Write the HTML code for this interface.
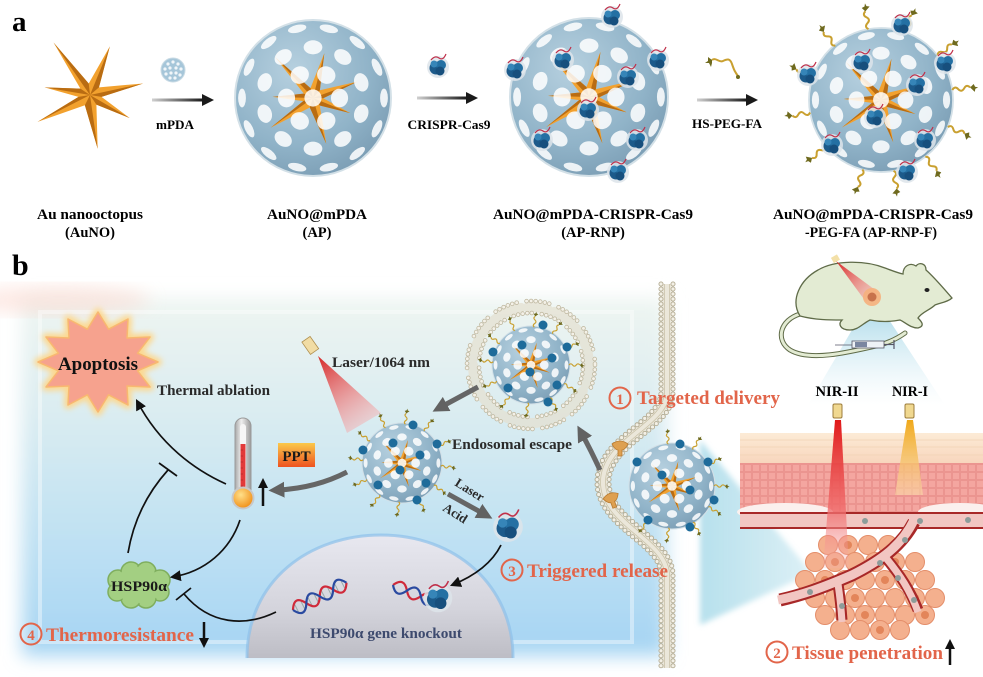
<!DOCTYPE html>
<html><head><meta charset="utf-8"><style>
html,body{margin:0;padding:0;background:#fff;width:983px;height:677px;overflow:hidden}
svg{display:block}
text{font-family:"Liberation Serif","DejaVu Serif",serif;font-weight:bold}
</style></head><body>
<svg width="983" height="677" viewBox="0 0 983 677" xmlns="http://www.w3.org/2000/svg">
<defs>
<radialGradient id="sph" cx="0.38" cy="0.32" r="0.75">
<stop offset="0" stop-color="#b6d0df"/><stop offset="0.65" stop-color="#90b3c8"/><stop offset="1" stop-color="#7a9cb3"/>
</radialGradient>
<g id="star">
<polygon points="-57,-82 -2,-18 31,-76 14,-12 83,-18 18,3 62,36 10,15 12,84 -8,16 -82,42 -18,3 -71,-12 -15,-10" fill="#f2a12e"/>
<g fill="#b96c12">
<polygon points="0,0 -57,-82 -2,-18"/><polygon points="0,0 31,-76 14,-12"/><polygon points="0,0 83,-18 18,3"/>
<polygon points="0,0 62,36 10,15"/><polygon points="0,0 12,84 -8,16"/><polygon points="0,0 -82,42 -18,3"/>
<polygon points="0,0 -71,-12 -15,-10"/>
</g></g>
<g id="holes" fill="#fff" fill-opacity="0.85">
<ellipse transform="rotate(0) translate(91,0)" rx="5" ry="12"/><ellipse transform="rotate(25.7) translate(91,0)" rx="5" ry="12"/>
<ellipse transform="rotate(51.4) translate(91,0)" rx="5" ry="12"/><ellipse transform="rotate(77.1) translate(91,0)" rx="5" ry="12"/>
<ellipse transform="rotate(102.9) translate(91,0)" rx="5" ry="12"/><ellipse transform="rotate(128.6) translate(91,0)" rx="5" ry="12"/>
<ellipse transform="rotate(154.3) translate(91,0)" rx="5" ry="12"/><ellipse transform="rotate(180) translate(91,0)" rx="5" ry="12"/>
<ellipse transform="rotate(205.7) translate(91,0)" rx="5" ry="12"/><ellipse transform="rotate(231.4) translate(91,0)" rx="5" ry="12"/>
<ellipse transform="rotate(257.1) translate(91,0)" rx="5" ry="12"/><ellipse transform="rotate(282.9) translate(91,0)" rx="5" ry="12"/>
<ellipse transform="rotate(308.6) translate(91,0)" rx="5" ry="12"/><ellipse transform="rotate(334.3) translate(91,0)" rx="5" ry="12"/>
<ellipse transform="rotate(18) translate(65,0)" rx="9" ry="12"/><ellipse transform="rotate(54) translate(65,0)" rx="9" ry="12"/>
<ellipse transform="rotate(90) translate(65,0)" rx="9" ry="12"/><ellipse transform="rotate(126) translate(65,0)" rx="9" ry="12"/>
<ellipse transform="rotate(162) translate(65,0)" rx="9" ry="12"/><ellipse transform="rotate(198) translate(65,0)" rx="9" ry="12"/>
<ellipse transform="rotate(234) translate(65,0)" rx="9" ry="12"/><ellipse transform="rotate(270) translate(65,0)" rx="9" ry="12"/>
<ellipse transform="rotate(306) translate(65,0)" rx="9" ry="12"/><ellipse transform="rotate(342) translate(65,0)" rx="9" ry="12"/>
<ellipse transform="rotate(0) translate(34,0)" rx="11" ry="12"/><ellipse transform="rotate(60) translate(34,0)" rx="11" ry="12"/>
<ellipse transform="rotate(120) translate(34,0)" rx="11" ry="12"/><ellipse transform="rotate(180) translate(34,0)" rx="11" ry="12"/>
<ellipse transform="rotate(240) translate(34,0)" rx="11" ry="12"/><ellipse transform="rotate(300) translate(34,0)" rx="11" ry="12"/>
<circle r="11"/>
</g>
<g id="np"><circle r="100" fill="url(#sph)" stroke="#d3e0e7" stroke-width="2.5"/><use href="#star" transform="rotate(-8) scale(0.72)"/><use href="#holes"/></g>
<g id="rnp">
<circle r="11" fill="#dde4ea" opacity="0.85"/>
<circle cx="-2" cy="1" r="6.5" fill="#1c5a8a"/><circle cx="3" cy="-2" r="5" fill="#2470a3"/>
<circle cx="2" cy="4" r="4.5" fill="#174f7d"/><circle cx="-4" cy="-3" r="3.5" fill="#3685b8"/>
<path d="M-7,-7 q4,-5 8,-2 t7,-4" stroke="#c0304a" stroke-width="1.2" fill="none"/>
</g>
<g id="lig"><path d="M0,0 q3,-4 6,0 t6,0 t6,0" stroke="#c9a030" stroke-width="2" fill="none"/><path d="M18,0 l4,-3 l1,3 l3,1 l-3,1 l-1,3 z" fill="#6f6a1e"/></g>
<linearGradient id="arrg" x1="0" y1="0" x2="1" y2="0"><stop offset="0" stop-color="#d0d0d0"/><stop offset="1" stop-color="#1a1a1a"/></linearGradient>
<linearGradient id="cellg" x1="0" y1="0" x2="0" y2="1">
<stop offset="0" stop-color="#eef5f1"/><stop offset="0.3" stop-color="#dcedf1"/><stop offset="0.7" stop-color="#bde0f3"/><stop offset="1" stop-color="#a5d4f3"/></linearGradient>
<filter id="bl10" x="-10%" y="-15%" width="120%" height="130%"><feGaussianBlur stdDeviation="9"/></filter>
<filter id="bl3" x="-20%" y="-20%" width="140%" height="140%"><feGaussianBlur stdDeviation="3"/></filter>
<linearGradient id="nucg" x1="0" y1="0" x2="0" y2="1"><stop offset="0" stop-color="#e8e8f0"/><stop offset="0.6" stop-color="#d4d4dc"/><stop offset="1" stop-color="#bdbdc5"/></linearGradient>
<linearGradient id="pptg" x1="0" y1="0" x2="0" y2="1"><stop offset="0" stop-color="#fbc94a"/><stop offset="1" stop-color="#ee5320"/></linearGradient>
<linearGradient id="thg" x1="0" y1="0" x2="1" y2="0"><stop offset="0" stop-color="#a8a8a8"/><stop offset="0.4" stop-color="#efefef"/><stop offset="1" stop-color="#9a9a9a"/></linearGradient>
<radialGradient id="bulbg" cx="0.4" cy="0.35" r="0.7"><stop offset="0" stop-color="#ffe08a"/><stop offset="1" stop-color="#f08a10"/></radialGradient>
<linearGradient id="laserb" gradientUnits="userSpaceOnUse" x1="318" y1="356" x2="364" y2="425"><stop offset="0" stop-color="#d42828"/><stop offset="1" stop-color="#ff9a9a" stop-opacity="0.35"/></linearGradient>
<linearGradient id="redbeam" x1="0" y1="0" x2="0" y2="1"><stop offset="0" stop-color="#e01818"/><stop offset="0.6" stop-color="#f06a6a" stop-opacity="0.8"/><stop offset="1" stop-color="#f6b0b0" stop-opacity="0.2"/></linearGradient>
<linearGradient id="yelbeam" x1="0" y1="0" x2="0" y2="1"><stop offset="0" stop-color="#f0a818"/><stop offset="1" stop-color="#fbd8a8" stop-opacity="0.6"/></linearGradient>
<linearGradient id="cone1" x1="0" y1="0" x2="1" y2="0"><stop offset="0" stop-color="#9fd6e6" stop-opacity="0.75"/><stop offset="1" stop-color="#9fd6e6" stop-opacity="0.35"/></linearGradient>
<linearGradient id="cone2" x1="0" y1="0" x2="0" y2="1"><stop offset="0" stop-color="#a0d4e6" stop-opacity="0.9"/><stop offset="1" stop-color="#d6eef5" stop-opacity="0"/></linearGradient>
<linearGradient id="mlaser" gradientUnits="userSpaceOnUse" x1="836" y1="262" x2="872" y2="296"><stop offset="0" stop-color="#d82828"/><stop offset="1" stop-color="#f8a0a0" stop-opacity="0.5"/></linearGradient>
<linearGradient id="beige" x1="0" y1="0" x2="0" y2="1"><stop offset="0" stop-color="#fcebd6"/><stop offset="1" stop-color="#f8d6bd"/></linearGradient>
<pattern id="cells" width="8" height="8" patternUnits="userSpaceOnUse"><rect width="8" height="8" fill="#f4a6a0"/><rect x="0.5" y="0.5" width="7" height="7" fill="none" stroke="#e58a86" stroke-width="0.6"/></pattern>
<marker id="bh" viewBox="0 0 10 10" refX="8" refY="5" markerWidth="11" markerHeight="11" markerUnits="userSpaceOnUse" orient="auto"><path d="M0,0 L10,5 L0,10 z" fill="#111"/></marker>
<marker id="gh" viewBox="0 0 10 10" refX="4" refY="5" markerWidth="16" markerHeight="16" markerUnits="userSpaceOnUse" orient="auto"><path d="M0,0 L10,5 L0,10 z" fill="#626262"/></marker>
</defs>

<!-- ================= PANEL A ================= -->
<text x="12" y="31" font-size="29">a</text>
<use href="#star" transform="translate(90,95) scale(0.64)"/>

<circle cx="173" cy="70" r="12" fill="#a6c6d9" stroke="#c8dae4"/>
<g fill="#fff" opacity="0.85">
<circle cx="168" cy="64" r="1.6"/><circle cx="173" cy="62" r="1.6"/><circle cx="178" cy="64" r="1.6"/>
<circle cx="165" cy="69" r="1.6"/><circle cx="170" cy="68" r="1.6"/><circle cx="176" cy="68" r="1.6"/><circle cx="181" cy="69" r="1.6"/>
<circle cx="166" cy="74" r="1.6"/><circle cx="171" cy="73" r="1.6"/><circle cx="176" cy="73" r="1.6"/><circle cx="180" cy="75" r="1.6"/>
<circle cx="170" cy="78" r="1.6"/><circle cx="175" cy="78" r="1.6"/>
</g>
<rect x="152" y="98.5" width="51" height="3" fill="url(#arrg)"/><polygon points="202,94 214,100 202,106" fill="#1a1a1a"/>
<text x="175" y="129" font-size="12.5" text-anchor="middle" textLength="38" lengthAdjust="spacingAndGlyphs">mPDA</text>

<use href="#np" transform="translate(313,98) scale(0.78)"/>

<use href="#rnp" transform="translate(438,67)"/>
<rect x="417" y="96.5" width="50" height="3" fill="url(#arrg)"/><polygon points="466,92 478,98 466,104" fill="#1a1a1a"/>
<text x="449" y="129" font-size="12.5" text-anchor="middle" textLength="83" lengthAdjust="spacingAndGlyphs">CRISPR-Cas9</text>

<use href="#np" transform="translate(589,97) scale(0.79)"/>
<use href="#rnp" transform="translate(612,17)"/><use href="#rnp" transform="translate(515,70)"/>
<use href="#rnp" transform="translate(658,60)"/><use href="#rnp" transform="translate(563,60)"/>
<use href="#rnp" transform="translate(628,77)"/><use href="#rnp" transform="translate(588,110)"/>
<use href="#rnp" transform="translate(542,140)"/><use href="#rnp" transform="translate(637,140)"/>
<use href="#rnp" transform="translate(618,172)"/>

<path d="M712,60 c4,-3 7,3 11,1 s7,-3 9,3 s3,8 6,12" stroke="#c9a030" stroke-width="2" fill="none"/>
<path d="M712,60 l-4,-3 l0,4 l-3,2 l4,0 l2,4 l1,-4 z" fill="#6f6a1e"/><circle cx="738" cy="77" r="2" fill="#6f6a1e"/>
<rect x="697" y="98.5" width="50" height="3" fill="url(#arrg)"/><polygon points="746,94 758,100 746,106" fill="#1a1a1a"/>
<text x="727" y="128" font-size="12.5" text-anchor="middle" textLength="70" lengthAdjust="spacingAndGlyphs">HS-PEG-FA</text>

<use href="#np" transform="translate(881,100) scale(0.72)"/>
<g transform="translate(881,100)">
<use href="#lig" transform="rotate(-130) translate(71,0)"/><use href="#lig" transform="rotate(-100) translate(72,0)"/>
<use href="#lig" transform="rotate(-70) translate(72,0)"/><use href="#lig" transform="rotate(-38) translate(72,0)"/>
<use href="#lig" transform="rotate(-8) translate(72,0)"/><use href="#lig" transform="rotate(22) translate(72,0)"/>
<use href="#lig" transform="rotate(52) translate(72,0)"/><use href="#lig" transform="rotate(80) translate(72,0)"/>
<use href="#lig" transform="rotate(105) translate(72,0)"/><use href="#lig" transform="rotate(140) translate(72,0)"/>
<use href="#lig" transform="rotate(170) translate(72,0)"/><use href="#lig" transform="rotate(200) translate(72,0)"/>
</g>
<use href="#rnp" transform="translate(902,25)"/><use href="#rnp" transform="translate(808,75)"/>
<use href="#rnp" transform="translate(945,63)"/><use href="#rnp" transform="translate(862,62)"/>
<use href="#rnp" transform="translate(917,85)"/><use href="#rnp" transform="translate(875,117)"/>
<use href="#rnp" transform="translate(832,145)"/><use href="#rnp" transform="translate(925,140)"/>
<use href="#rnp" transform="translate(907,172)"/>

<g font-size="14.5" text-anchor="middle">
<text x="90" y="219" textLength="106" lengthAdjust="spacingAndGlyphs">Au nanooctopus</text>
<text x="90" y="237">(AuNO)</text>
<text x="317" y="219" textLength="100" lengthAdjust="spacingAndGlyphs">AuNO@mPDA</text>
<text x="317" y="237">(AP)</text>
<text x="593" y="219" textLength="200" lengthAdjust="spacingAndGlyphs">AuNO@mPDA-CRISPR-Cas9</text>
<text x="593" y="237">(AP-RNP)</text>
<text x="873" y="219" textLength="200" lengthAdjust="spacingAndGlyphs">AuNO@mPDA-CRISPR-Cas9</text>
<text x="871" y="237" textLength="132" lengthAdjust="spacingAndGlyphs">-PEG-FA (AP-RNP-F)</text>
</g>

<!-- ================= PANEL B ================= -->
<text x="12" y="275" font-size="30">b</text>

<rect x="22" y="298" width="645" height="358" fill="url(#cellg)" filter="url(#bl10)"/>
<ellipse cx="60" cy="300" rx="90" ry="14" fill="#fbd6cc" filter="url(#bl10)" opacity="0.55"/>
<rect x="40" y="312" width="592" height="330" fill="none" stroke="#fff" stroke-opacity="0.4" stroke-width="4"/>

<polygon points="700,440 812,573 700,625" fill="url(#cone1)" filter="url(#bl3)"/>
<polygon points="866,306 880,306 945,405 808,405" fill="url(#cone2)"/>

<!-- mouse -->
<path d="M800,314 C780,320 775,340 790,350 C810,362 850,352 880,345 C890,342 898,338 905,333" stroke="#5f6b48" stroke-width="5" fill="none" stroke-linecap="round"/>
<path d="M800,314 C780,320 775,340 790,350 C810,362 850,352 880,345 C890,342 898,338 905,333" stroke="#e3ebd3" stroke-width="3" fill="none" stroke-linecap="round"/>
<path d="M800,316 C790,300 800,280 818,270 C835,260 865,260 885,268 C893,271 898,273 903,274 C903,266 910,262 916,266 C919,262 926,263 926,270 C935,278 945,290 952,298 C948,302 940,303 935,305 C930,310 922,312 918,318 C922,322 925,326 918,328 C910,328 905,322 900,320 C890,322 880,322 870,320 C862,324 858,330 850,330 C840,330 838,324 842,320 C830,320 815,320 800,316 Z" fill="#e3ebd3" stroke="#5f6b48" stroke-width="1.3"/>
<ellipse cx="927" cy="290" rx="2.5" ry="2" fill="#222"/>
<polygon points="836,261 866,302 878,292" fill="url(#mlaser)"/>
<rect x="832" y="256" width="7" height="6" fill="#f3e0a8" transform="rotate(-30 835 259)"/>
<circle cx="872" cy="297" r="9" fill="#f5b07c" opacity="0.9"/><circle cx="872" cy="297" r="4.5" fill="#c8724c"/>
<g>
<line x1="835" y1="345" x2="852" y2="345" stroke="#556" stroke-width="0.8"/>
<rect x="852" y="341" width="32" height="7" fill="#eef2f6" stroke="#556" stroke-width="0.8"/>
<rect x="855" y="342" width="12" height="5" fill="#7a86a0"/>
<line x1="884" y1="344.5" x2="894" y2="344.5" stroke="#556" stroke-width="1.2"/><line x1="894" y1="340" x2="894" y2="349" stroke="#556" stroke-width="1.2"/>
</g>

<text x="837" y="396" font-size="14.5" text-anchor="middle" textLength="43" lengthAdjust="spacingAndGlyphs">NIR-II</text>
<text x="910" y="396" font-size="14.5" text-anchor="middle" textLength="36" lengthAdjust="spacingAndGlyphs">NIR-I</text>

<!-- tissue -->
<rect x="740" y="433" width="243" height="30" fill="url(#beige)"/>
<g stroke="#f1d2b4" stroke-width="0.7">
<line x1="740" y1="440" x2="983" y2="440"/><line x1="740" y1="447" x2="983" y2="447"/><line x1="740" y1="455" x2="983" y2="455"/>
</g>
<rect x="740" y="463" width="243" height="50" fill="url(#cells)"/>
<ellipse cx="785" cy="512" rx="48" ry="9" fill="#fbf0ee"/>
<ellipse cx="960" cy="512" rx="42" ry="9" fill="#fbf0ee"/>
<g fill="#f4b08e" stroke="#e48e6a" stroke-width="1">
<circle cx="828" cy="545" r="9.5"/><circle cx="848" cy="545" r="9.5"/><circle cx="868" cy="545" r="9.5"/><circle cx="888" cy="545" r="9.5"/>
<circle cx="815" cy="562" r="9.5"/><circle cx="835" cy="562" r="9.5"/><circle cx="855" cy="562" r="9.5"/><circle cx="875" cy="562" r="9.5"/><circle cx="895" cy="562" r="9.5"/><circle cx="915" cy="562" r="9.5"/>
<circle cx="805" cy="580" r="9.5"/><circle cx="825" cy="580" r="9.5"/><circle cx="845" cy="580" r="9.5"/><circle cx="865" cy="580" r="9.5"/><circle cx="885" cy="580" r="9.5"/><circle cx="905" cy="580" r="9.5"/><circle cx="925" cy="580" r="9.5"/>
<circle cx="815" cy="598" r="9.5"/><circle cx="835" cy="598" r="9.5"/><circle cx="855" cy="598" r="9.5"/><circle cx="875" cy="598" r="9.5"/><circle cx="895" cy="598" r="9.5"/><circle cx="915" cy="598" r="9.5"/><circle cx="935" cy="598" r="9.5"/>
<circle cx="825" cy="615" r="9.5"/><circle cx="845" cy="615" r="9.5"/><circle cx="865" cy="615" r="9.5"/><circle cx="885" cy="615" r="9.5"/><circle cx="905" cy="615" r="9.5"/><circle cx="925" cy="615" r="9.5"/>
<circle cx="840" cy="630" r="9.5"/><circle cx="860" cy="630" r="9.5"/><circle cx="880" cy="630" r="9.5"/><circle cx="900" cy="630" r="9.5"/>
</g>
<g fill="#e3855a">
<circle cx="848" cy="545" r="4"/><circle cx="835" cy="562" r="4"/><circle cx="895" cy="562" r="4"/><circle cx="825" cy="580" r="4"/><circle cx="885" cy="580" r="4"/>
<circle cx="855" cy="598" r="4"/><circle cx="915" cy="598" r="4"/><circle cx="865" cy="615" r="4"/><circle cx="880" cy="630" r="4"/><circle cx="925" cy="615" r="4"/>
</g>
<rect x="740" y="513" width="243" height="15" fill="#f2c6c2"/>
<line x1="740" y1="513" x2="983" y2="513" stroke="#a82828" stroke-width="2"/>
<line x1="740" y1="528" x2="983" y2="528" stroke="#a82828" stroke-width="2"/>
<g fill="none" stroke-linecap="butt">
<path d="M914,522 C902,545 882,560 852,575 C822,588 802,595 780,600" stroke="#a82828" stroke-width="13"/>
<path d="M838,584 C840,597 841,606 842,620" stroke="#a82828" stroke-width="11"/>
<path d="M886,558 C900,575 910,590 918,610" stroke="#a82828" stroke-width="11"/>
<path d="M914,520 C902,545 882,560 852,575 C822,588 802,595 778,600" stroke="#f2c6c2" stroke-width="9"/>
<path d="M838,584 C840,597 841,606 842,622" stroke="#f2c6c2" stroke-width="7"/>
<path d="M886,558 C900,575 910,590 918,612" stroke="#f2c6c2" stroke-width="7"/>
</g>
<g fill="#8d9c9a"><circle cx="865" cy="521" r="3"/><circle cx="920" cy="521" r="3"/><circle cx="968" cy="520" r="3"/>
<circle cx="905" cy="540" r="3"/><circle cx="880" cy="563" r="3"/><circle cx="898" cy="578" r="3"/><circle cx="914" cy="600" r="3"/><circle cx="842" cy="606" r="3"/><circle cx="810" cy="592" r="3"/></g>
<polygon points="835,420 841,420 849,568 823,568" fill="url(#redbeam)"/>
<polygon points="907,420 913,420 923,495 895,495" fill="url(#yelbeam)"/>
<rect x="833" y="404" width="9" height="14" rx="1.5" fill="#f0d890" stroke="#9c7c3c" stroke-width="1"/>
<rect x="905" y="404" width="9" height="14" rx="1.5" fill="#f0d890" stroke="#9c7c3c" stroke-width="1"/>

<!-- membrane -->
<g fill="none">
<path d="M667,284 L667,392 C667,425 603,440 603,482 C603,525 667,540 667,575 L667,668" stroke="#ebe7da" stroke-width="9"/>
<path d="M664.5,284 L664.5,392 C664.5,424 600.5,439 600.5,482 C600.5,526 664.5,541 664.5,575 L664.5,668" stroke="#cbc4aa" stroke-width="0.8"/>
<path d="M669.5,284 L669.5,393 C669.5,426 605.5,442 605.5,482 C605.5,523 669.5,539 669.5,575 L669.5,668" stroke="#cbc4aa" stroke-width="0.8"/>
<path d="M661,284 L661,392 C661,422 597,437 597,482 C597,528 661,543 661,575 L661,668" stroke="#b3ab92" stroke-width="5" stroke-linecap="round" stroke-dasharray="0 5"/>
<path d="M673,284 L673,394 C673,428 609,444 609,482 C609,521 673,537 673,575 L673,668" stroke="#b3ab92" stroke-width="5" stroke-linecap="round" stroke-dasharray="0 5"/>
<path d="M661,284 L661,392 C661,422 597,437 597,482 C597,528 661,543 661,575 L661,668" stroke="#f3f0e6" stroke-width="3.2" stroke-linecap="round" stroke-dasharray="0 5"/>
<path d="M673,284 L673,394 C673,428 609,444 609,482 C609,521 673,537 673,575 L673,668" stroke="#f3f0e6" stroke-width="3.2" stroke-linecap="round" stroke-dasharray="0 5"/>
</g>
<g fill="#dea050" stroke="#b87a30" stroke-width="0.8">
<path d="M612,444 q8,-6 16,0 q-3,6 -6,6 l0,6 l-4,0 l0,-6 q-3,0 -6,-6z"/>
<path d="M604,496 q8,-6 16,0 q-3,6 -6,6 l0,6 l-4,0 l0,-6 q-3,0 -6,-6z" transform="rotate(-20 612 500)"/>
</g>

<!-- Apoptosis burst -->
<polygon points="158,362 137.6,370.8 150,387 127,386 128,405 108.6,394.8 98,412 87.4,394.8 68,405 69,386 46,387 58.4,370.8 38,362 58.4,353.2 46,337 69,338 68,319 87.4,329.2 98,312 108.6,329.2 128,319 127,338 150,337 137.6,353.2" fill="#fde0a0" stroke="#fcd890" stroke-width="8" stroke-linejoin="round" filter="url(#bl3)"/>
<polygon points="158,362 137.6,370.8 150,387 127,386 128,405 108.6,394.8 98,412 87.4,394.8 68,405 69,386 46,387 58.4,370.8 38,362 58.4,353.2 46,337 69,338 68,319 87.4,329.2 98,312 108.6,329.2 128,319 127,338 150,337 137.6,353.2" fill="#f6a28e" stroke="#f8b870" stroke-width="1.5" stroke-linejoin="round"/>
<text x="98" y="370" font-size="19" text-anchor="middle" textLength="80" lengthAdjust="spacingAndGlyphs" fill="#111">Apoptosis</text>
<text x="157" y="395" font-size="14.5" textLength="113" lengthAdjust="spacingAndGlyphs" fill="#2a2a2a">Thermal ablation</text>

<polygon points="318,356 347,433 381,413" fill="url(#laserb)"/>
<rect x="305" y="338" width="10" height="15" fill="#f1dca4" stroke="#b09050" stroke-width="0.8" transform="rotate(-35 310 345)"/>
<text x="332" y="367" font-size="15" textLength="98" lengthAdjust="spacingAndGlyphs" fill="#2a2a2a">Laser/1064 nm</text>

<!-- thermometer -->
<rect x="235" y="418" width="16" height="82" rx="8" fill="url(#thg)" stroke="#9a9a9a" stroke-width="1"/>
<rect x="240" y="424" width="6" height="72" rx="3" fill="#f6f6f6"/>
<rect x="240.5" y="444" width="5" height="52" fill="#e23a3a"/>
<g stroke="#9a2020" stroke-width="0.5"><line x1="240.5" y1="450" x2="243" y2="450"/><line x1="240.5" y1="456" x2="243" y2="456"/><line x1="240.5" y1="462" x2="243" y2="462"/><line x1="240.5" y1="468" x2="243" y2="468"/><line x1="240.5" y1="474" x2="243" y2="474"/><line x1="240.5" y1="480" x2="243" y2="480"/><line x1="240.5" y1="486" x2="243" y2="486"/></g>
<circle cx="243" cy="498" r="10.5" fill="url(#bulbg)" stroke="#c8c8c8" stroke-width="2"/>
<line x1="263" y1="506" x2="263" y2="486" stroke="#111" stroke-width="2.5"/><polygon points="258,488 263,478 268,488" fill="#111"/>

<rect x="278" y="443" width="37" height="24" fill="url(#pptg)"/>
<text x="296.5" y="461" font-size="15" text-anchor="middle" fill="#1a1a1a">PPT</text>

<!-- endosome particle with lipid fragments -->
<g fill="none" stroke-linecap="round">
<circle cx="531" cy="365" r="58" stroke="#e4e0d0" stroke-width="10" stroke-opacity="0.75" stroke-dasharray="20 7"/>
<circle cx="531" cy="365" r="52" stroke="#bdb59c" stroke-width="4.5" stroke-dasharray="0 4.6 0 4.6 0 4.6 0 4.6 0 10"/>
<circle cx="531" cy="365" r="64" stroke="#bdb59c" stroke-width="4.5" stroke-dasharray="0 4.6 0 4.6 0 4.6 0 4.6 0 4.6 0 10"/>
<circle cx="531" cy="365" r="52" stroke="#f4f1e8" stroke-width="3" stroke-dasharray="0 4.6 0 4.6 0 4.6 0 4.6 0 10"/>
<circle cx="531" cy="365" r="64" stroke="#f4f1e8" stroke-width="3" stroke-dasharray="0 4.6 0 4.6 0 4.6 0 4.6 0 4.6 0 10"/>
</g>
<g transform="translate(531,365)">
<use href="#np" transform="scale(0.39)"/>
<use href="#lig" transform="rotate(0) translate(38,0) scale(0.6)"/><use href="#lig" transform="rotate(30) translate(38,0) scale(0.6)"/>
<use href="#lig" transform="rotate(60) translate(38,0) scale(0.6)"/><use href="#lig" transform="rotate(95) translate(38,0) scale(0.6)"/>
<use href="#lig" transform="rotate(125) translate(38,0) scale(0.6)"/><use href="#lig" transform="rotate(155) translate(38,0) scale(0.6)"/>
<use href="#lig" transform="rotate(185) translate(38,0) scale(0.6)"/><use href="#lig" transform="rotate(215) translate(38,0) scale(0.6)"/>
<use href="#lig" transform="rotate(245) translate(38,0) scale(0.6)"/><use href="#lig" transform="rotate(275) translate(38,0) scale(0.6)"/>
<use href="#lig" transform="rotate(305) translate(38,0) scale(0.6)"/><use href="#lig" transform="rotate(335) translate(38,0) scale(0.6)"/>
</g>
<g fill="#1e6b9a"><circle cx="543" cy="325" r="4.5"/><circle cx="567" cy="347" r="4.5"/><circle cx="493" cy="352" r="4.5"/><circle cx="508" cy="388" r="4.5"/>
<circle cx="548" cy="402" r="4.5"/><circle cx="557" cy="385" r="4.5"/><circle cx="522" cy="345" r="4.5"/><circle cx="530" cy="372" r="4.5"/><circle cx="552" cy="358" r="4.5"/></g>

<!-- center particle -->
<g transform="translate(402,463)">
<use href="#np" transform="scale(0.40)"/>
<use href="#lig" transform="rotate(5) translate(39,0) scale(0.6)"/><use href="#lig" transform="rotate(35) translate(39,0) scale(0.6)"/>
<use href="#lig" transform="rotate(65) translate(39,0) scale(0.6)"/><use href="#lig" transform="rotate(95) translate(39,0) scale(0.6)"/>
<use href="#lig" transform="rotate(125) translate(39,0) scale(0.6)"/><use href="#lig" transform="rotate(155) translate(39,0) scale(0.6)"/>
<use href="#lig" transform="rotate(185) translate(39,0) scale(0.6)"/><use href="#lig" transform="rotate(215) translate(39,0) scale(0.6)"/>
<use href="#lig" transform="rotate(245) translate(39,0) scale(0.6)"/><use href="#lig" transform="rotate(275) translate(39,0) scale(0.6)"/>
<use href="#lig" transform="rotate(305) translate(39,0) scale(0.6)"/><use href="#lig" transform="rotate(335) translate(39,0) scale(0.6)"/>
</g>
<g fill="#1e6b9a"><circle cx="413" cy="425" r="4.5"/><circle cx="437" cy="444" r="4.5"/><circle cx="363" cy="450" r="4.5"/><circle cx="378" cy="485" r="4.5"/>
<circle cx="417" cy="500" r="4.5"/><circle cx="426" cy="483" r="4.5"/><circle cx="393" cy="443" r="4.5"/><circle cx="400" cy="470" r="4.5"/><circle cx="420" cy="455" r="4.5"/></g>
<text x="452" y="449" font-size="15" textLength="120" lengthAdjust="spacingAndGlyphs" fill="#2a2a2a">Endosomal escape</text>

<!-- membrane particle -->
<g transform="translate(672,486)">
<use href="#np" transform="scale(0.43)"/>
<use href="#lig" transform="rotate(-60) translate(42,0) scale(0.6)"/><use href="#lig" transform="rotate(-30) translate(42,0) scale(0.6)"/>
<use href="#lig" transform="rotate(0) translate(42,0) scale(0.6)"/><use href="#lig" transform="rotate(30) translate(42,0) scale(0.6)"/>
<use href="#lig" transform="rotate(60) translate(42,0) scale(0.6)"/><use href="#lig" transform="rotate(95) translate(42,0) scale(0.6)"/>
<use href="#lig" transform="rotate(125) translate(42,0) scale(0.6)"/><use href="#lig" transform="rotate(-95) translate(42,0) scale(0.6)"/>
</g>
<g fill="#1e6b9a"><circle cx="637" cy="462" r="4.5"/><circle cx="680" cy="444" r="4.5"/><circle cx="708" cy="462" r="4.5"/><circle cx="714" cy="500" r="4.5"/>
<circle cx="690" cy="527" r="4.5"/><circle cx="648" cy="520" r="4.5"/><circle cx="662" cy="475" r="4.5"/><circle cx="690" cy="490" r="4.5"/></g>

<!-- gray arrows -->
<g fill="none" stroke="#666" stroke-width="5">
<path d="M347,472 C322,485 298,489 278,490" marker-end="url(#gh)"/>
<path d="M478,387 L441,407" marker-end="url(#gh)"/>
<path d="M448,494 L484,514" marker-end="url(#gh)"/>
<path d="M600,470 C594,457 588,445 582,434" marker-end="url(#gh)"/>
<path d="M398,607 L360,607" stroke="#6a6a6a" stroke-width="4" marker-end="url(#gh)"/>
</g>
<text transform="translate(454,485) rotate(32)" font-size="13" fill="#2a2a2a">Laser</text>
<text transform="translate(442,510) rotate(32)" font-size="13" fill="#2a2a2a">Acid</text>

<use href="#rnp" transform="translate(508,527) scale(1.35)"/>

<!-- nucleus -->
<path d="M247,658 C247,580 310,535 381,535 C455,535 513,585 513,658 Z" fill="url(#nucg)"/>
<path d="M247,658 C247,580 310,535 381,535 C455,535 513,585 513,658" fill="none" stroke="#8dc0ea" stroke-width="3" stroke-opacity="0.7"/>
<g transform="translate(293,610) rotate(-27)" fill="none" stroke-width="2.2">
<g stroke="#9aa" stroke-width="1"><line x1="4" y1="-5" x2="4" y2="5"/><line x1="11" y1="-5" x2="11" y2="5"/><line x1="19" y1="-5" x2="19" y2="5"/><line x1="26" y1="-5" x2="26" y2="5"/><line x1="34" y1="-5" x2="34" y2="5"/><line x1="41" y1="-5" x2="41" y2="5"/><line x1="49" y1="-5" x2="49" y2="5"/><line x1="56" y1="-5" x2="56" y2="5"/></g>
<path d="M0,0 C5,-9 10,-9 15,0 S25,9 30,0 S40,-9 45,0 S55,9 60,0" stroke="#d02a3a"/>
<path d="M0,0 C5,9 10,9 15,0 S25,-9 30,0 S40,9 45,0 S55,-9 60,0" stroke="#2a4aa0"/>
</g>
<g transform="translate(393,585) rotate(22)" fill="none" stroke-width="2.2">
<path d="M0,0 C5,-8 10,-8 15,0 S25,8 30,0 S40,-8 45,0" stroke="#d02a3a"/>
<path d="M0,0 C5,8 10,8 15,0 S25,-8 30,0 S40,8 45,0" stroke="#2a4aa0"/>
</g>
<use href="#rnp" transform="translate(438,598) scale(1.3)"/>
<text x="310" y="638" font-size="14.5" textLength="152" lengthAdjust="spacingAndGlyphs" fill="#3d4a6e">HSP90α gene knockout</text>

<!-- HSP90 cloud -->
<g fill="#a3cf82" stroke="#7fae5e" stroke-width="1.5">
<circle cx="118" cy="580" r="10"/><circle cx="131" cy="572" r="10"/><circle cx="146" cy="572" r="10"/><circle cx="160" cy="580" r="10"/>
<circle cx="160" cy="592" r="9"/><circle cx="146" cy="598" r="10"/><circle cx="131" cy="598" r="10"/><circle cx="117" cy="592" r="9"/>
</g>
<g fill="#a3cf82">
<circle cx="118" cy="580" r="8.5"/><circle cx="131" cy="572" r="8.5"/><circle cx="146" cy="572" r="8.5"/><circle cx="160" cy="580" r="8.5"/>
<circle cx="160" cy="592" r="7.5"/><circle cx="146" cy="598" r="8.5"/><circle cx="131" cy="598" r="8.5"/><circle cx="117" cy="592" r="7.5"/>
<rect x="116" y="574" width="46" height="22"/>
</g>
<text x="139" y="591" font-size="15" text-anchor="middle" textLength="56" lengthAdjust="spacingAndGlyphs" fill="#1a1a1a">HSP90α</text>

<!-- black connectors -->
<g fill="none" stroke="#111" stroke-width="1.7">
<path d="M226,484 C195,470 160,445 137,401" marker-end="url(#bh)"/>
<path d="M128,553 C134,517 150,490 168,470"/>
<line x1="159" y1="463" x2="177" y2="476"/>
<path d="M240,520 C230,550 205,572 172,577" marker-end="url(#bh)"/>
<path d="M276,612 C245,627 210,625 184,594"/>
<line x1="176" y1="600" x2="191" y2="588"/>
<path d="M501,545 C491,565 472,577 452,585" marker-end="url(#bh)"/>
</g>

<!-- numbered labels -->
<g fill="none" stroke="#e2654a" stroke-width="2">
<circle cx="31" cy="634" r="10.5"/><circle cx="620" cy="398" r="10.5"/><circle cx="512" cy="570" r="10.5"/><circle cx="777" cy="652" r="10.5"/>
</g>
<g fill="#e2654a" font-size="19">
<text x="31" y="640" font-size="15" text-anchor="middle">4</text>
<text x="46" y="641" textLength="148" lengthAdjust="spacingAndGlyphs">Thermoresistance</text>
<text x="620" y="404" font-size="15" text-anchor="middle">1</text>
<text x="637" y="404" textLength="143" lengthAdjust="spacingAndGlyphs">Targeted delivery</text>
<text x="512" y="576" font-size="15" text-anchor="middle">3</text>
<text x="527" y="577" textLength="141" lengthAdjust="spacingAndGlyphs">Triggered release</text>
<text x="777" y="658" font-size="15" text-anchor="middle">2</text>
<text x="792" y="659" textLength="151" lengthAdjust="spacingAndGlyphs">Tissue penetration</text>
</g>
<line x1="204" y1="622" x2="204" y2="640" stroke="#111" stroke-width="2.5"/><polygon points="199,638 204,648 209,638" fill="#111"/>
<line x1="950" y1="665" x2="950" y2="647" stroke="#111" stroke-width="2.5"/><polygon points="945,649 950,639 955,649" fill="#111"/>
</svg>
</body></html>
